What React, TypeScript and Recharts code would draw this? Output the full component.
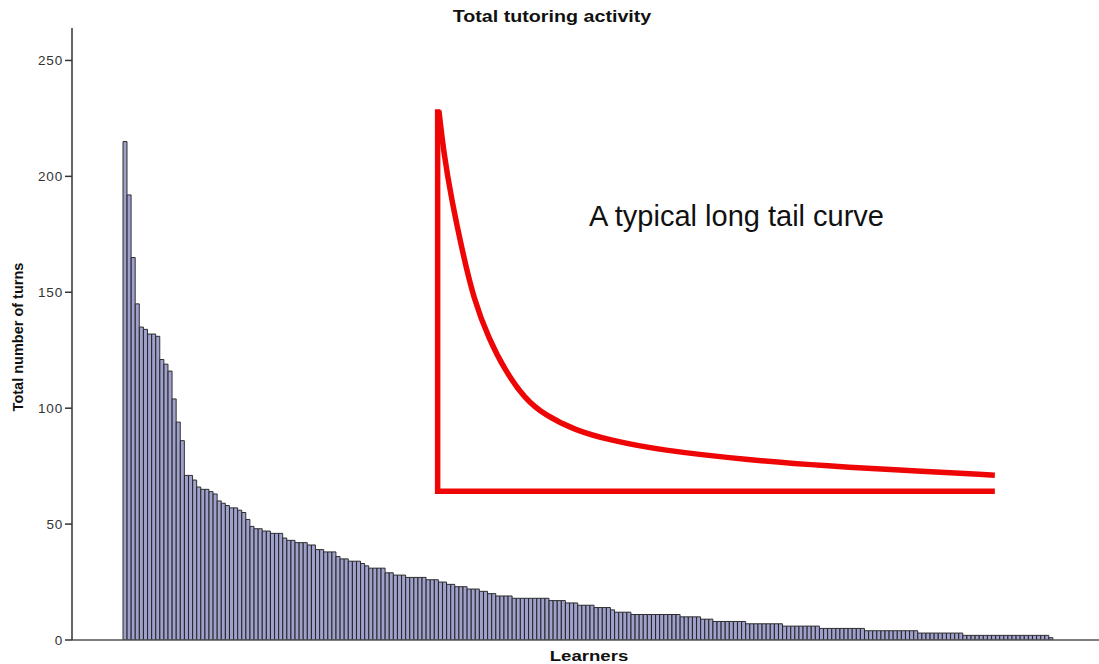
import { ComposedChart, Bar, Line, XAxis, YAxis } from "recharts";

// Turns per learner, sorted high to low (one value per learner).
const TURNS = [
  215, 192, 165, 145, 135, 134, 132, 132, 131, 121, 119, 116, 104, 94, 86, 71, 71, 69, 66, 65,
  65, 64, 63, 60, 59, 58, 57, 57, 56, 55, 52, 49, 48, 48, 47, 47, 46, 46, 46, 44,
  43, 43, 42, 42, 42, 41, 41, 39, 39, 38, 38, 38, 36, 35, 35, 34, 34, 34, 33, 32,
  31, 31, 31, 31, 29, 29, 28, 28, 28, 27, 27, 27, 27, 27, 26, 26, 26, 25, 25, 24,
  24, 23, 23, 23, 22, 22, 22, 21, 21, 20, 20, 19, 19, 19, 19, 18, 18, 18, 18, 18,
  18, 18, 18, 18, 17, 17, 17, 17, 16, 16, 16, 15, 15, 15, 15, 14, 14, 14, 14, 13,
  12, 12, 12, 12, 11, 11, 11, 11, 11, 11, 11, 11, 11, 11, 11, 11, 10, 10, 10, 10,
  10, 9, 9, 9, 8, 8, 8, 8, 8, 8, 8, 8, 7, 7, 7, 7, 7, 7, 7, 7,
  7, 6, 6, 6, 6, 6, 6, 6, 6, 6, 5, 5, 5, 5, 5, 5, 5, 5, 5, 5,
  5, 4, 4, 4, 4, 4, 4, 4, 4, 4, 4, 4, 4, 4, 3, 3, 3, 3, 3, 3,
  3, 3, 3, 3, 3, 2, 2, 2, 2, 2, 2, 2, 2, 2, 2, 2, 2, 2, 2, 2,
  2, 2, 2, 2, 2, 2, 1,
];

const Y_TICKS = [0, 50, 100, 150, 200, 250];

// The hand-drawn red "long tail" sketch, in learner-position / turns units.
const CURVE_X = [77.1, 78.3, 80.2, 82.8, 85.6, 89.3, 93.2, 98.1, 103.0, 110.3, 118.8, 131.0, 153.0, 172.5, 189.6, 212.8];
const CURVE_Y = [228.4, 210.0, 190.0, 168.0, 147.0, 130.0, 116.4, 104.0, 97.0, 90.5, 86.2, 81.9, 77.6, 75.0, 73.3, 71.1];
const FRAME_X = [212.8, 76.8, 76.8];
const FRAME_Y = [64.2, 64.2, 229];

const FONT = '"Liberation Sans", Arial, sans-serif';
const RED = "#ee0606";

const data = TURNS.map((turns, i) => ({ learner: i + 1, turns }));
const curve = CURVE_X.map((x, i) => ({ x, y: CURVE_Y[i] }));
const frame = FRAME_X.map((x, i) => ({ x, y: FRAME_Y[i] }));

const PAD = { left: 51, right: 46 };

export default function App() {
  return (
    <div style={{ position: "relative", width: 1099, height: 664, fontFamily: FONT, background: "#fff" }}>
      <style>{"body{margin:0}"}</style>
      <ComposedChart
        width={1099}
        height={664}
        data={data}
        margin={{ top: 28, right: 0, bottom: 0, left: 0 }}
        barCategoryGap={0}
        barGap={0}
      >
        <XAxis
          dataKey="learner"
          type="category"
          height={24}
          tick={false}
          tickLine={false}
          axisLine={{ stroke: "#555", strokeWidth: 1.5 }}
          padding={PAD}
        />
        <XAxis
          xAxisId="curve"
          dataKey="x"
          type="number"
          orientation="top"
          domain={[0, TURNS.length]}
          allowDataOverflow
          height={0}
          tick={false}
          tickLine={false}
          axisLine={{ stroke: "#8c8c8c", strokeWidth: 2 }}
          padding={PAD}
        />
        <YAxis
          width={72}
          domain={[0, 264]}
          allowDataOverflow
          ticks={Y_TICKS}
          tickSize={7}
          tickMargin={2}
          tick={{ fontFamily: FONT, fontSize: 13.5, fill: "#333", letterSpacing: 0.8 }}
          tickLine={{ stroke: "#333", strokeWidth: 1.5 }}
          axisLine={{ stroke: "#333", strokeWidth: 1.5 }}
        />
        <Bar dataKey="turns" fill="#9fa1cc" stroke="#1e1e1e" strokeWidth={0.9} isAnimationActive={false} />
        <Line
          xAxisId="curve"
          data={frame}
          dataKey="y"
          type="linear"
          stroke={RED}
          strokeWidth={5.5}
          dot={false}
          activeDot={false}
          isAnimationActive={false}
        />
        <Line
          xAxisId="curve"
          data={curve}
          dataKey="y"
          type="basis"
          stroke={RED}
          strokeWidth={5.5}
          strokeLinejoin="round"
          dot={false}
          activeDot={false}
          isAnimationActive={false}
        />
      </ComposedChart>
      <div
        style={{
          position: "absolute",
          left: 552,
          top: 17,
          transform: "translate(-50%, -50%) scaleX(1.23)",
          whiteSpace: "nowrap",
          fontSize: 16,
          lineHeight: "16px",
          fontWeight: 700,
          color: "#111",
        }}
      >
        Total tutoring activity
      </div>
      <div
        style={{
          position: "absolute",
          left: 589,
          top: 656,
          transform: "translate(-50%, -50%) scaleX(1.2)",
          whiteSpace: "nowrap",
          fontSize: 15.5,
          lineHeight: "15.5px",
          fontWeight: 700,
          color: "#111",
        }}
      >
        Learners
      </div>
      <div
        style={{
          position: "absolute",
          left: 18,
          top: 337,
          transform: "translate(-50%, -50%) rotate(-90deg)",
          whiteSpace: "nowrap",
          fontSize: 14.5,
          lineHeight: "14.5px",
          fontWeight: 700,
          color: "#111",
        }}
      >
        Total number of turns
      </div>
      <div
        style={{
          position: "absolute",
          left: 589,
          top: 200,
          fontSize: 29,
          lineHeight: "32px",
          color: "#111",
          whiteSpace: "nowrap",
        }}
      >
        A typical long tail curve
      </div>
    </div>
  );
}
